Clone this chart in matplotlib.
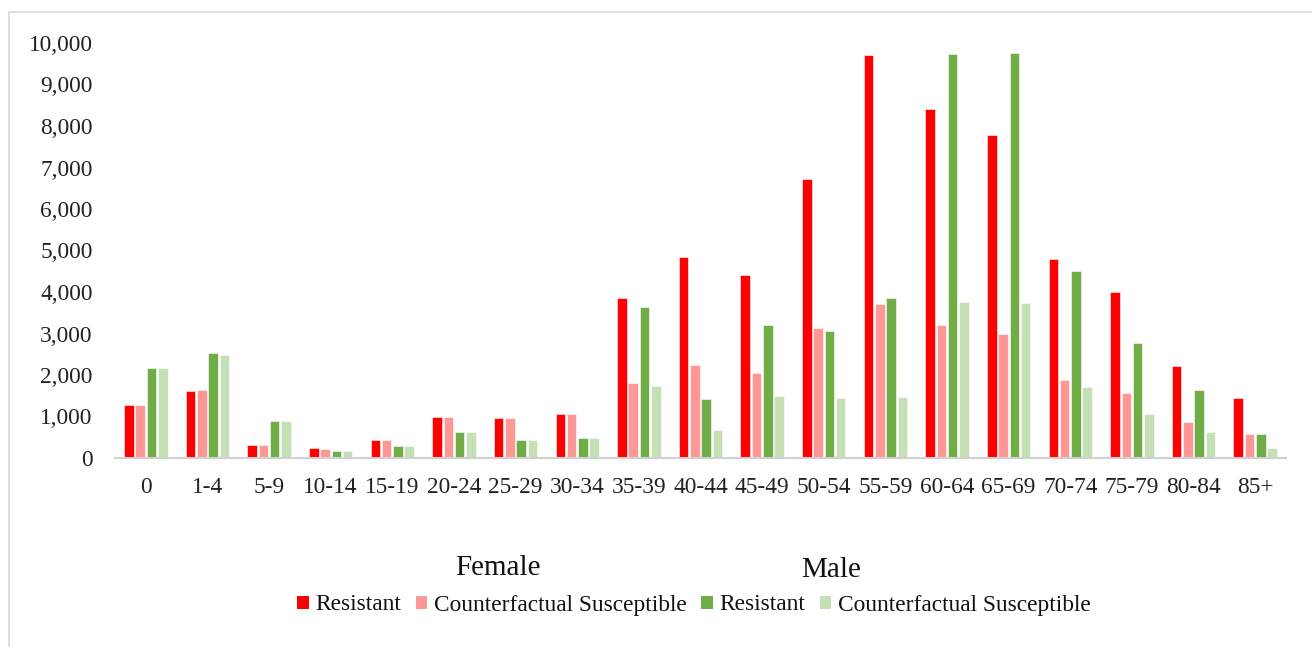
import matplotlib
matplotlib.use("Agg")
import matplotlib.pyplot as plt
import numpy as np
from matplotlib.patches import Rectangle, Patch

categories = ["0", "1-4", "5-9", "10-14", "15-19", "20-24", "25-29", "30-34", "35-39",
              "40-44", "45-49", "50-54", "55-59", "60-64", "65-69", "70-74", "75-79",
              "80-84", "85+"]
female_resistant = [1270, 1620, 310, 230, 440, 1000, 960, 1050, 3860, 4840, 4400, 6730,
                    9700, 8400, 7780, 4790, 4010, 2220, 1450]
female_cf_susceptible = [1270, 1650, 310, 220, 440, 1000, 960, 1050, 1800, 2250, 2060, 3140,
                         3700, 3200, 2990, 1880, 1570, 860, 580]
male_resistant = [2180, 2520, 900, 160, 290, 620, 440, 470, 3630, 1420, 3210, 3050,
                  3860, 9730, 9760, 4500, 2770, 1630, 580]
male_cf_susceptible = [2170, 2470, 900, 160, 290, 620, 440, 470, 1730, 670, 1500, 1450,
                       1470, 3760, 3730, 1720, 1070, 630, 230]
yticks = [0, 1000, 2000, 3000, 4000, 5000, 6000, 7000, 8000, 9000, 10000]
legend_labels = ["Resistant", "Counterfactual Susceptible", "Resistant", "Counterfactual Susceptible"]
colors = ["#FF0000", "#FF9797", "#70AD47", "#C5E0B4"]

plt.rcParams['font.family'] = ['Liberation Serif', 'DejaVu Serif']

fig = plt.figure(figsize=(13.12, 6.47), dpi=100)
ax = fig.add_axes([115/1312, 1 - 458/647, (1286 - 115)/1312, (458 - 43)/647])

x = np.arange(len(categories))
slot = 0.183
bw = 0.155
series = [female_resistant, female_cf_susceptible, male_resistant, male_cf_susceptible]
for i, (vals, c) in enumerate(zip(series, colors)):
    ax.bar(x + (i - 1.5) * slot, vals, width=bw, color=c, edgecolor='white', linewidth=0.4)

ax.set_xlim(-0.5, len(categories) - 0.5)
ax.set_ylim(0, 10000)
ax.set_yticks(yticks)
ax.set_yticklabels([f"{v:,}" for v in yticks])
ax.set_xticks(x)
ax.set_xticklabels(categories)
ax.tick_params(axis='both', length=0, labelsize=16.8, colors='#222222')
ax.tick_params(axis='y', pad=16)
ax.tick_params(axis='x', pad=14)
for s in ['top', 'right', 'left']:
    ax.spines[s].set_visible(False)
ax.spines['bottom'].set_color('#d0d0d0')
ax.spines['bottom'].set_linewidth(1.5)

# outer frame (left and top visible)
frame = Rectangle((9/1312, -0.05), 1.2, (647 - 12)/647 + 0.05, transform=fig.transFigure,
                  fill=False, edgecolor='#d9d9d9', linewidth=1.2)
fig.patches.append(frame)

fig.text(498/1312, 1 - 568/647, "Female", ha='center', va='center', fontsize=21, color='#111111')
fig.text(831/1312, 1 - 570/647, "Male", ha='center', va='center', fontsize=21, color='#111111')

handles = [Patch(facecolor=c, edgecolor='none') for c in colors]
leg = fig.legend(handles, legend_labels, loc='center', bbox_to_anchor=(694/1312, 1 - 605/647),
                 ncol=4, frameon=False, fontsize=16.8, handlelength=0.5, handleheight=0.5,
                 handletextpad=0.3, columnspacing=0.6, borderaxespad=0)
for t in leg.get_texts():
    t.set_color('#111111')

fig.savefig("out.png", dpi=100)
